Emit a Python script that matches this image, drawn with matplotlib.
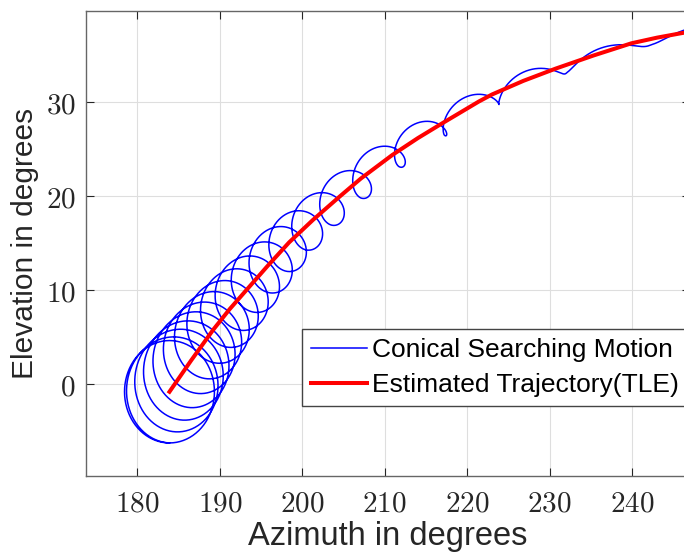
import numpy as np
import matplotlib
matplotlib.use('Agg')
import matplotlib.pyplot as plt

# estimated trajectory (TLE)
red_az = [183.9, 186.5, 189.2, 191.2, 193.2, 195.8, 198.4, 201.3, 204.5, 207.1, 210.9,
          214.0, 217.0, 221.4, 223.0, 226.8, 230.7, 235.3, 239.9, 243.0, 246.1, 248.0]
red_el = [-0.8, 2.5, 5.8, 8.0, 10.0, 12.6, 15.1, 17.5, 19.96, 21.9, 24.4,
          26.2, 27.8, 30.1, 30.85, 32.3, 33.6, 35.0, 36.3, 36.9, 37.4, 37.7]

# conical search: one entry per turn (centre of the cone and its radius)
# the first turn is a full circle around the start point
cone_az = [183.9, 183.9, 184.68, 185.53, 186.44, 187.44, 188.50, 189.71, 191.09, 192.57, 194.23,
           196.08, 198.12, 200.45, 203.5, 207.1, 211.7, 217.2, 223.8, 232.1, 242.3, 254.6]
cone_el = [-0.8, -0.8, 0.18, 1.23, 2.36, 3.61, 4.93, 6.34, 7.78, 9.34, 11.01,
           12.83, 14.82, 16.80, 19.2, 21.9, 24.9, 27.9, 31.1, 34.0, 36.7, 38.6]
cone_r = [5.45, 5.45, 5.25, 5.05, 4.85, 4.6, 4.35, 4.1, 3.85, 3.6, 3.35,
          3.1, 2.8, 2.5, 2.25, 2.07, 1.72, 1.35, 1.2, 0.8, 0.55, 0.45]

xticks = [180, 190, 200, 210, 220, 230, 240]
yticks = [0, 10, 20, 30]

plt.rcParams['mathtext.fontset'] = 'cm'
plt.rcParams['font.family'] = ['Liberation Sans', 'DejaVu Sans']

# build the spiral: clockwise turns, centre and radius moving from one turn to the next
blue_az, blue_el = [], []
for i in range(len(cone_az) - 1):
    t = np.linspace(0, 1, 240, endpoint=False)
    ca = cone_az[i] + t * (cone_az[i + 1] - cone_az[i])
    ce = cone_el[i] + t * (cone_el[i + 1] - cone_el[i])
    r = cone_r[i] + t * (cone_r[i + 1] - cone_r[i])
    th = -np.pi / 2 - 2 * np.pi * t
    blue_az.append(ca + r * np.cos(th))
    blue_el.append(ce + r * np.sin(th))
blue_az = np.concatenate(blue_az)
blue_el = np.concatenate(blue_el)

fig = plt.figure(figsize=(6.84, 5.53), dpi=100)
W, H = 684, 553
ax = fig.add_axes([85.5 / W, (H - 476) / H, (690 - 85.5) / W, (476 - 10.7) / H])

ax.plot(blue_az, blue_el, color='#0000ff', lw=1.1, label='Conical Searching Motion')
ax.plot(red_az, red_el, color='#ff0000', lw=2.9, solid_joinstyle='round',
        label='Estimated Trajectory(TLE)')

ax.set_xlim(173.72, 247.0)
ax.set_ylim(-9.77, 39.77)
ax.set_xticks(xticks)
ax.set_yticks(yticks)
ax.set_xticklabels(['$%d$' % v for v in xticks])
ax.set_yticklabels(['$%d$' % v for v in yticks])
ax.tick_params(direction='in', top=True, right=True, length=6, width=0.8,
               labelsize=21, colors='#262626')
ax.tick_params(axis='x', pad=10)
ax.tick_params(axis='y', pad=7)
ax.grid(True, color='#dedede', lw=0.8)
ax.set_axisbelow(True)
for s in ax.spines.values():
    s.set_color('#666666')
    s.set_linewidth(1.0)

ax.set_xlabel('Azimuth in degrees', fontsize=23.5, color='#262626', labelpad=2)
ax.set_ylabel('Elevation in degrees', fontsize=21.5, color='#262626', labelpad=5)

leg = ax.legend(loc='upper left', bbox_to_anchor=(302 / W, 1 - 329 / H),
                bbox_transform=fig.transFigure, fontsize=19, handlelength=2.1,
                handletextpad=0.2, borderpad=0.35, labelspacing=0.4,
                borderaxespad=0, fancybox=False, framealpha=1)
leg.get_frame().set_edgecolor('#444444')
leg.get_frame().set_linewidth(1.0)

fig.savefig('out.png', dpi=100)
